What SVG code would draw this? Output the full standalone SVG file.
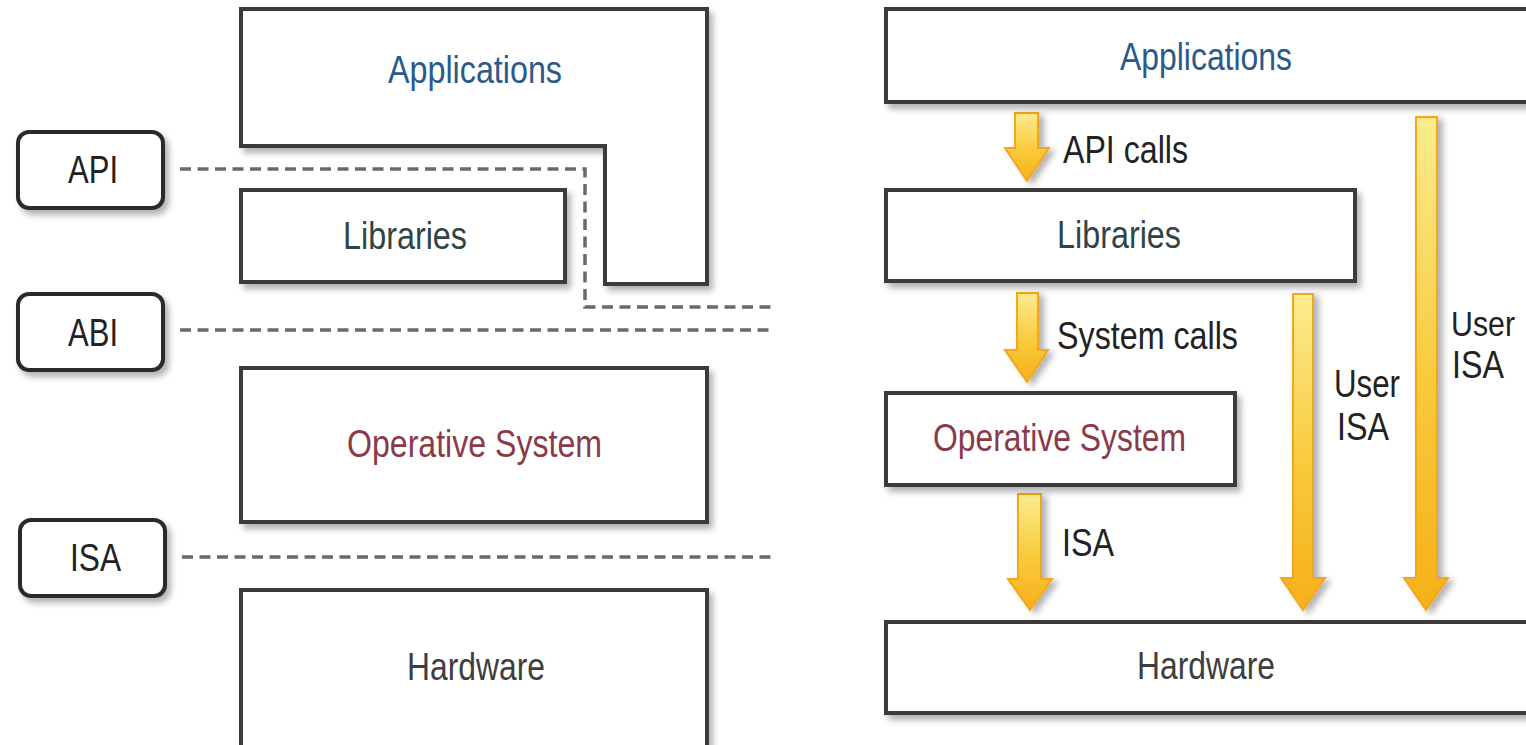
<svg xmlns="http://www.w3.org/2000/svg" width="1526" height="745" viewBox="0 0 1526 745">
<style>
.box{fill:#fff;stroke:#3a3a3a;stroke-width:4;filter:url(#sh)}
.lbl{fill:#fff;stroke:#2c2c2c;stroke-width:4;filter:url(#sh)}
text{font-family:"Liberation Sans",Arial,sans-serif;font-size:38px}
.app{fill:#2b5a8a}
.lib{fill:#2f4545}
.os{fill:#8a3a48}
.hw{fill:#3e3e3e}
.blk{fill:#222}
.dash{fill:none;stroke:#6a6a6a;stroke-width:3.5;stroke-dasharray:11 6.5}
.arr{fill:url(#gy);stroke:#f3a71c;stroke-width:2;filter:url(#ash)}
</style>
<defs>
<filter id="sh" x="-10%" y="-10%" width="130%" height="140%">
<feDropShadow dx="4" dy="5" stdDeviation="3" flood-color="#000" flood-opacity="0.3"/>
</filter>
<filter id="ash" x="-50%" y="-10%" width="220%" height="130%">
<feDropShadow dx="5" dy="3" stdDeviation="3" flood-color="#000" flood-opacity="0.3"/>
</filter>
<linearGradient id="gy" x1="0" y1="0" x2="0" y2="1">
<stop offset="0" stop-color="#fcec8f"/>
<stop offset="0.55" stop-color="#f9c93a"/>
<stop offset="1" stop-color="#f6b01a"/>
</linearGradient>
</defs>
<rect width="1526" height="745" fill="#fff"/>

<g id="connectors">
<path class="dash" d="M180,169 H585 V307 H772"/>
<path class="dash" d="M180,330 H772"/>
<path class="dash" d="M182,557 H774"/>
<path class="arr" d="M1015,113 H1038 V148 H1049 L1027,181 L1005,148 H1015 Z"/>
<path class="arr" d="M1017,293 H1038 V350 H1048 L1027,382 L1005,350 H1017 Z"/>
<path class="arr" d="M1018,494 H1041 V579 H1052 L1030,610 L1008,579 H1018 Z"/>
<path class="arr" d="M1293,294 H1313 V578 H1325 L1303,610 L1281,578 H1293 Z"/>
<path class="arr" d="M1416,117 H1437 V578 H1448 L1426,610 L1404,578 H1416 Z"/>
<text class="blk" x="1063" y="163" textLength="125" lengthAdjust="spacingAndGlyphs">API calls</text>
<text class="blk" x="1057" y="349" textLength="181" lengthAdjust="spacingAndGlyphs">System calls</text>
<text class="blk" x="1062" y="556" textLength="52" lengthAdjust="spacingAndGlyphs">ISA</text>
<text class="blk" x="1334" y="397" textLength="66" lengthAdjust="spacingAndGlyphs">User</text>
<text class="blk" x="1337" y="440" textLength="52" lengthAdjust="spacingAndGlyphs">ISA</text>
<text class="blk" x="1451" y="336" style="font-size:35px" textLength="64" lengthAdjust="spacingAndGlyphs">User</text>
<text class="blk" x="1452" y="378" textLength="52" lengthAdjust="spacingAndGlyphs">ISA</text>
</g>

<g id="left-applications">
<path class="box" d="M241,9 H707 V284 H605 V146 H241 Z"/>
<text class="app" x="388" y="83" textLength="174" lengthAdjust="spacingAndGlyphs">Applications</text>
</g>
<g id="left-libraries">
<rect class="box" x="241" y="190" width="324" height="92"/>
<text class="lib" x="343" y="249" textLength="124" lengthAdjust="spacingAndGlyphs">Libraries</text>
</g>
<g id="left-os">
<rect class="box" x="241" y="368" width="466" height="154"/>
<text class="os" x="347" y="457" textLength="255" lengthAdjust="spacingAndGlyphs">Operative System</text>
</g>
<g id="left-hardware">
<rect class="box" x="241" y="590" width="466" height="170"/>
<text class="hw" x="407" y="680" textLength="138" lengthAdjust="spacingAndGlyphs">Hardware</text>
</g>
<g id="api">
<rect class="lbl" x="18" y="132" width="145" height="76" rx="11"/>
<text class="blk" x="68" y="183" textLength="50" lengthAdjust="spacingAndGlyphs">API</text>
</g>
<g id="abi">
<rect class="lbl" x="18" y="294" width="145" height="76" rx="11"/>
<text class="blk" x="68" y="346" textLength="50" lengthAdjust="spacingAndGlyphs">ABI</text>
</g>
<g id="isa">
<rect class="lbl" x="20" y="520" width="145" height="76" rx="11"/>
<text class="blk" x="70" y="571" textLength="51" lengthAdjust="spacingAndGlyphs">ISA</text>
</g>

<g id="right-applications">
<rect class="box" x="886" y="9" width="680" height="93"/>
<text class="app" x="1120" y="70" textLength="172" lengthAdjust="spacingAndGlyphs">Applications</text>
</g>
<g id="right-libraries">
<rect class="box" x="886" y="190" width="469" height="91"/>
<text class="lib" x="1057" y="248" textLength="124" lengthAdjust="spacingAndGlyphs">Libraries</text>
</g>
<g id="right-os">
<rect class="box" x="886" y="393" width="349" height="92"/>
<text class="os" x="933" y="451" textLength="253" lengthAdjust="spacingAndGlyphs">Operative System</text>
</g>
<g id="right-hardware">
<rect class="box" x="886" y="622" width="680" height="91"/>
<text class="hw" x="1137" y="679" textLength="138" lengthAdjust="spacingAndGlyphs">Hardware</text>
</g>
</svg>
